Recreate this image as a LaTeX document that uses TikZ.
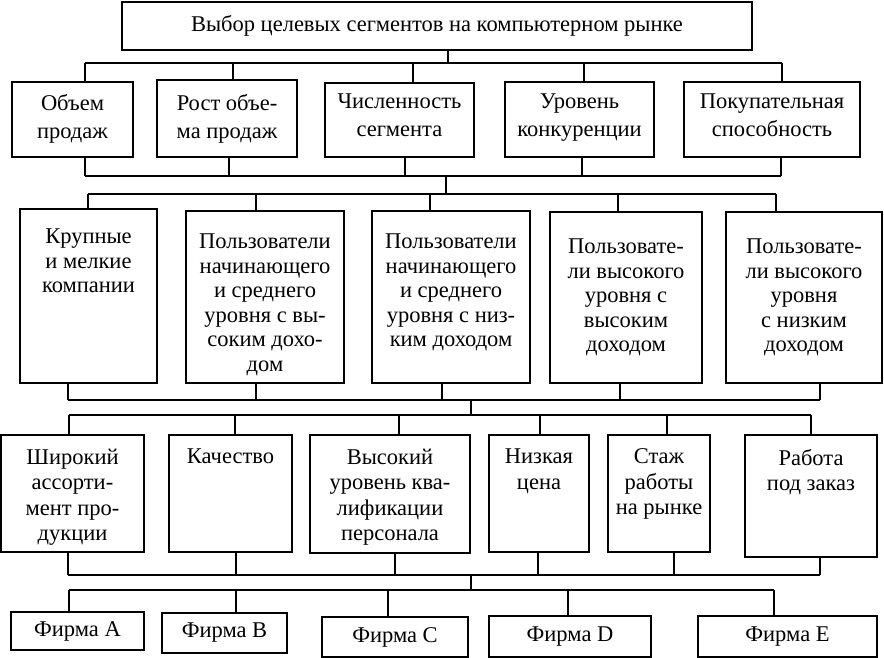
\documentclass[tikz,border=0pt]{standalone}
\usepackage{fontspec}
\setmainfont{Liberation Serif}
\newcommand\mybox[8]{% name,x1,y1,x2,y2,texttop,baselineskip,text
  \node[box, minimum width={(#4-#2)*1pt}, minimum height={(#5-#3)*1pt}] (#1) at ({(#2+#4)/2},{(#3+#5)/2}) {};
  \node[txt, font=\fontsize{22.5}{#7}\selectfont, anchor=north] (#1t) at ({(#2+#4)/2},#6) {#8};
}
\newcommand\cbox[6]{% name,x1,y1,x2,y2,text (centred)
  \node[box, txt, minimum width={(#4-#2)*1pt}, minimum height={(#5-#3)*1pt}] (#1) at ({(#2+#4)/2},{(#3+#5)/2}) {#6};
}
\newcommand\drop[3]{% x, y on bus, node anchor
  \coordinate (tmp) at (#1,#2);
  \draw[wire] (tmp) -- (tmp |- #3);
}
\newcommand\bus[3]{% y, x1, x2
  \coordinate (bl) at (#2,#1);
  \coordinate (br) at (#3,#1);
  \draw[wire] (bl) -- (br);
}
\begin{document}
\begin{tikzpicture}[x=1pt,y=-1pt,
  box/.style={draw, line width=1.8pt, inner sep=0pt, outer sep=0pt},
  txt/.style={inner sep=0pt, outer sep=0pt, align=center, font=\fontsize{22.5}{25}\selectfont},
  wire/.style={line width=1.5pt}]
\useasboundingbox (0,0) rectangle (884,658);

% title
\cbox{top}{122}{2}{752}{50}{Выбор целевых сегментов на компьютерном рынке}

% row 1
\mybox{ra}{12}{82}{133}{157}{94}{28}{Объем\\продаж}
\mybox{rb}{157}{80}{297}{157}{94}{28}{Рост объе-\\ма продаж}
\mybox{rc}{325}{83}{474}{157}{94}{28}{Численность\\сегмента}
\mybox{rd}{505}{82}{654}{157}{94}{28}{Уровень\\конкуренции}
\mybox{re}{684}{82}{860}{157}{94}{28}{Покупательная\\способность}

% row 2
\mybox{sa}{20}{209}{157}{383}{229}{24.5}{Крупные\\и мелкие\\компании}
\mybox{sb}{186}{211}{344}{383}{234}{24.5}{Пользователи\\начинающего\\и среднего\\уровня с вы-\\соким дохо-\\дом}
\mybox{sc}{372}{211}{530}{383}{234}{24.5}{Пользователи\\начинающего\\и среднего\\уровня с низ-\\ким доходом}
\mybox{sd}{550}{212}{702}{383}{239}{24.5}{Пользовате-\\ли высокого\\уровня с\\высоким\\доходом}
\mybox{se}{726}{212}{882}{383}{239}{24.5}{Пользовате-\\ли высокого\\уровня\\с низким\\доходом}

% row 3
\mybox{ta}{1}{435}{144}{552}{449}{25.5}{Широкий\\ассорти-\\мент про-\\дукции}
\mybox{tb}{169}{435}{292}{552}{449}{25.5}{Качество}
\mybox{tc}{310}{435}{470}{553}{449}{25.5}{Высокий\\уровень ква-\\лификации\\персонала}
\mybox{td}{489}{435}{589}{552}{449}{25.5}{Низкая\\цена}
\mybox{te}{608}{435}{710}{552}{449}{25.5}{Стаж\\работы\\на рынке}
\mybox{tf}{745}{435}{877}{557}{449}{25.5}{Работа\\под заказ}

% row 4
\cbox{ua}{11}{612}{144}{650}{Фирма A}
\cbox{ub}{162}{613}{287}{653}{Фирма B}
\cbox{uc}{322}{617}{468}{657}{Фирма C}
\cbox{ud}{489}{616}{651}{657}{Фирма D}
\cbox{ue}{698}{616}{877}{657}{Фирма E}

% level 0 -> 1
\coordinate (s0) at (448,63);
\draw[wire] (top.south -| s0) -- (s0);
\bus{63}{85}{782}
\drop{85}{63}{ra.north}
\drop{233}{63}{rb.north}
\drop{413}{63}{rc.north}
\drop{584}{63}{rd.north}
\drop{782}{63}{re.north}

% level 1 -> 2
\drop{85}{176}{ra.south}
\drop{229}{176}{rb.south}
\drop{405}{176}{rc.south}
\drop{582}{176}{rd.south}
\drop{781}{176}{re.south}
\bus{176}{85}{781}
\coordinate (s1) at (446,176);
\draw[wire] (s1) -- ++(0,18) coordinate (s1b);
\bus{194}{88}{776}
\drop{88}{194}{sa.north}
\drop{256}{194}{sb.north}
\drop{430}{194}{sc.north}
\drop{618}{194}{sd.north}
\drop{776}{194}{se.north}

% level 2 -> 3
\drop{68}{400}{sa.south}
\drop{256}{400}{sb.south}
\drop{442}{400}{sc.south}
\drop{620}{400}{sd.south}
\drop{820}{400}{se.south}
\bus{400}{68}{820}
\coordinate (s2) at (471,400);
\draw[wire] (s2) -- ++(0,15) coordinate (s2b);
\bus{415}{69}{811}
\drop{69}{415}{ta.north}
\drop{235}{415}{tb.north}
\drop{399}{415}{tc.north}
\drop{540}{415}{td.north}
\drop{667}{415}{te.north}
\drop{811}{415}{tf.north}

% level 3 -> 4
\drop{68}{575}{ta.south}
\drop{236}{575}{tb.south}
\drop{395}{575}{tc.south}
\drop{538}{575}{td.south}
\drop{674}{575}{te.south}
\drop{820}{575}{tf.south}
\bus{575}{68}{820}
\coordinate (s3) at (471,575);
\draw[wire] (s3) -- ++(0,15) coordinate (s3b);
\bus{590}{69}{774}
\drop{69}{590}{ua.north}
\drop{236}{590}{ub.north}
\drop{388}{590}{uc.north}
\drop{568}{590}{ud.north}
\drop{774}{590}{ue.north}
\end{tikzpicture}
\end{document}
